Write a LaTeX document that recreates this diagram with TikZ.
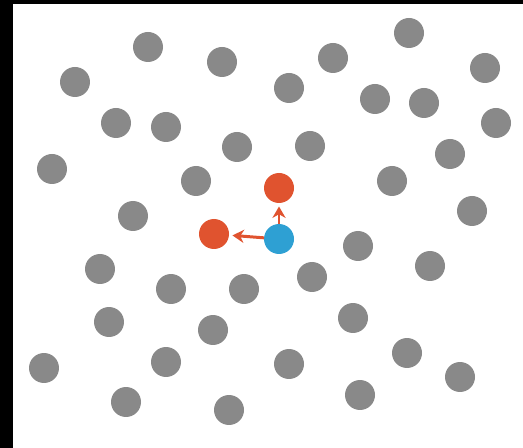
\documentclass[tikz,border=0pt]{standalone}
\usetikzlibrary{arrows.meta}

\definecolor{dotgray}{HTML}{898989}
\definecolor{dotred}{HTML}{E0532F}
\definecolor{dotblue}{HTML}{2EA0D3}

\begin{document}
\begin{tikzpicture}[
    x=0.02cm, y=-0.02cm, % one unit = one pixel of the sketch, y downwards
    >={Stealth[length=6.5pt, width=7.5pt]}, % Default arrow tip
    dot/.style={circle, minimum size=0.6cm, inner sep=0pt, outer sep=0pt}, % Particle
    neighbour/.style={dot, fill=dotgray}, % Grey particles
    picked/.style={dot, fill=dotred}, % Chosen neighbours
    centre/.style={dot, fill=dotblue}, % Particle in focus
    move/.style={->, draw=dotred, line width=1.7pt, shorten >=2pt} % Displacement arrows
]

    % --- Frame of the sketch ---
    \useasboundingbox (0,0) rectangle (523,448);
    \fill[white] (0,0) rectangle (523,448);
    \fill[black] (0,0) rectangle (13,448);
    \fill[black] (0,0) rectangle (523,4);

    % --- Grey particles ---
    \foreach \x/\y [count=\i] in {
        148/47, 222/62, 333/58, 409/33, 485/68,
        75/82, 289/88, 375/99, 424/103, 496/123,
        116/123, 166/127, 237/147, 310/146, 450/154,
        52/169, 196/181, 392/181, 133/216, 472/211,
        358/246, 100/269, 430/266, 312/277, 171/289,
        244/289, 109/322, 353/318, 213/330, 44/368,
        166/362, 289/364, 407/353, 460/377, 126/402,
        229/410, 360/395}
        \node[neighbour] (g\i) at (\x,\y) {};

    % --- Particle in focus and its neighbours ---
    \node[centre] (c) at (279,239) {};
    \node[picked] (up) at (279,188) {};
    \node[picked] (left) at (214,234) {};

    % --- Displacements ---
    \draw[move] (c) -- (up);
    \draw[move] (c) -- (left);

\end{tikzpicture}
\end{document}
